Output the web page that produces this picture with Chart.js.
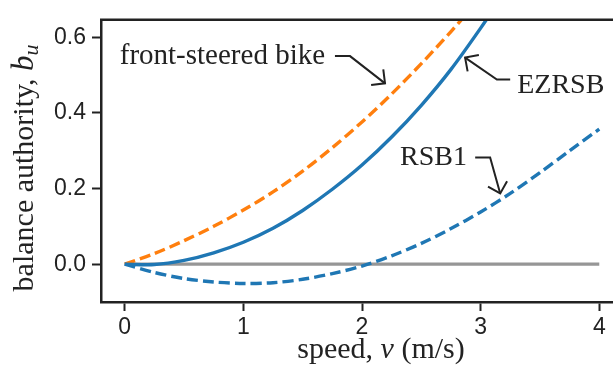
<!DOCTYPE html>
<html>
<head>
<meta charset="utf-8">
<script src="https://cdn.jsdelivr.net/npm/chart.js@4.4.1/dist/chart.umd.min.js"></script>
<style>
  html, body { margin: 0; padding: 0; background: #fff; overflow: hidden; }
  #wrap { width: 625px; height: 371px; }
</style>
</head>
<body>
<div id="wrap"><canvas id="authority"></canvas></div>
<script>
// speed (m/s) and balance authority b_u for each bike
var speed = [0, 0.25, 0.5, 0.75, 1.0, 1.25, 1.5, 1.75, 2.0, 2.25, 2.5, 2.75, 3.0, 3.25, 3.5, 3.75, 4.0];
var frontSteered = [0, 0.028, 0.062, 0.100, 0.143, 0.191, 0.246, 0.308, 0.376, 0.450, 0.530, 0.615, 0.705];
var ezrsb = [0, -0.001, 0.010, 0.030, 0.058, 0.095, 0.142, 0.198, 0.262, 0.336, 0.420, 0.515, 0.624, 0.740];
var rsb1 = [0, -0.022, -0.038, -0.047, -0.051, -0.049, -0.040, -0.025, -0.005, 0.022, 0.055, 0.094, 0.138, 0.187, 0.242, 0.300, 0.357];
var zeroLine = [0, 0];
var zeroSpeed = [0, 4];

var xTicks = [0, 1, 2, 3, 4];
var yTicks = [0, 0.2, 0.4, 0.6];

var INK = '#222222';
var SERIF = "'Liberation Serif', 'Times New Roman', serif";
var SANS = "'Liberation Sans', Arial, sans-serif";

function pts(xs, ys) {
    return ys.map(function (y, i) { return { x: xs[i], y: y }; });
}

// labels with arrows, in data coordinates
var notes = [
    { text: 'front-steered bike', size: 29, at: [-0.042, 0.529], path: [[1.772, 0.550], [1.899, 0.550], [2.194, 0.478]] },
    { text: 'EZRSB', size: 28, at: [3.308, 0.452], path: [[3.249, 0.488], [3.137, 0.488], [2.869, 0.546]] },
    { text: 'RSB1', size: 28, at: [2.321, 0.261], path: [[2.954, 0.282], [3.080, 0.282], [3.165, 0.187]] }
];

function drawParts(ctx, parts, x, y) {
    var total = 0;
    parts.forEach(function (p) { ctx.font = p.font; total += ctx.measureText(p.t).width; });
    var cx = x - total / 2;
    parts.forEach(function (p) {
        ctx.font = p.font;
        ctx.fillText(p.t, cx, y + (p.dy || 0));
        cx += ctx.measureText(p.t).width;
    });
}

var decorations = {
    id: 'decorations',
    afterDatasetsDraw: function (chart) {
        var ctx = chart.ctx, a = chart.chartArea;
        var xs = chart.scales.x, ys = chart.scales.y;
        ctx.save();
        // top spine
        ctx.strokeStyle = INK;
        ctx.lineWidth = 2.5;
        ctx.beginPath();
        ctx.moveTo(a.left - 1, a.top);
        ctx.lineTo(a.right, a.top);
        ctx.stroke();

        ctx.fillStyle = INK;
        ctx.textBaseline = 'alphabetic';
        ctx.textAlign = 'left';
        ctx.lineWidth = 2;
        ctx.lineJoin = 'miter';
        notes.forEach(function (n) {
            ctx.font = n.size + 'px ' + SERIF;
            ctx.fillText(n.text, xs.getPixelForValue(n.at[0]), ys.getPixelForValue(n.at[1]));
            var p = n.path.map(function (q) { return [xs.getPixelForValue(q[0]), ys.getPixelForValue(q[1])]; });
            ctx.beginPath();
            ctx.moveTo(p[0][0], p[0][1]);
            for (var i = 1; i < p.length; i++) ctx.lineTo(p[i][0], p[i][1]);
            ctx.stroke();
            // open arrow head
            var tip = p[p.length - 1], prev = p[p.length - 2];
            var ang = Math.atan2(prev[1] - tip[1], prev[0] - tip[0]);
            var len = 14, spread = Math.PI / 4;
            ctx.beginPath();
            ctx.moveTo(tip[0] + len * Math.cos(ang - spread), tip[1] + len * Math.sin(ang - spread));
            ctx.lineTo(tip[0], tip[1]);
            ctx.lineTo(tip[0] + len * Math.cos(ang + spread), tip[1] + len * Math.sin(ang + spread));
            ctx.stroke();
        });

        // axis titles
        drawParts(ctx, [
            { t: 'speed, ', font: '30px ' + SERIF },
            { t: 'v', font: 'italic 30px ' + SERIF },
            { t: ' (m/s)', font: '30px ' + SERIF }
        ], a.left + 280, 358);

        ctx.translate(33, (a.top + a.bottom) / 2 + 7);
        ctx.rotate(-Math.PI / 2);
        drawParts(ctx, [
            { t: 'balance authority, ', font: '30px ' + SERIF },
            { t: 'b', font: 'italic 31px ' + SERIF },
            { t: 'u', font: 'italic 22px ' + SERIF, dy: 5 }
        ], 0, 0);
        ctx.restore();
    }
};

var lineStyle = { pointRadius: 0, borderWidth: 3.4, fill: false, tension: 0.3, clip: 0 };

new Chart(document.getElementById('authority'), {
    type: 'line',
    data: {
        datasets: [
            Object.assign({ label: 'EZRSB', data: pts(speed, ezrsb), borderColor: '#1f77b4' }, lineStyle),
            Object.assign({ label: 'RSB1', data: pts(speed, rsb1), borderColor: '#1f77b4', borderDash: [11, 5] }, lineStyle),
            Object.assign({ label: 'front-steered bike', data: pts(speed, frontSteered), borderColor: '#ff7f0e', borderDash: [11, 5] }, lineStyle),
            Object.assign({ label: 'zero', data: pts(zeroSpeed, zeroLine), borderColor: '#969696' }, lineStyle)
        ]
    },
    options: {
        responsive: true,
        maintainAspectRatio: false,
        animation: false,
        events: [],
        layout: { padding: { top: 9, right: 2, left: 0, bottom: 0 } },
        plugins: { legend: { display: false }, tooltip: { enabled: false } },
        scales: {
            x: {
                type: 'linear',
                min: -0.2,
                max: 4.2,
                afterFit: function (s) { s.height = 69; },
                afterBuildTicks: function (s) { s.ticks = xTicks.map(function (v) { return { value: v }; }); },
                ticks: {
                    font: { family: SANS, size: 23 },
                    color: INK,
                    padding: 3,
                    maxRotation: 0,
                    callback: function (v) { return String(v); }
                },
                grid: { drawOnChartArea: false, drawTicks: true, tickLength: 9, tickWidth: 2, tickColor: INK },
                border: { display: true, color: INK, width: 2.5 }
            },
            y: {
                type: 'linear',
                min: -0.1,
                max: 0.646,
                afterFit: function (s) { s.width = 101; },
                afterBuildTicks: function (s) { s.ticks = yTicks.map(function (v) { return { value: v }; }); },
                ticks: {
                    font: { family: SANS, size: 23 },
                    color: INK,
                    padding: 6,
                    callback: function (v) { return v.toFixed(1); }
                },
                grid: { drawOnChartArea: false, drawTicks: true, tickLength: 9, tickWidth: 2, tickColor: INK },
                border: { display: true, color: INK, width: 2.5 }
            }
        }
    },
    plugins: [decorations]
});
</script>
</body>
</html>
